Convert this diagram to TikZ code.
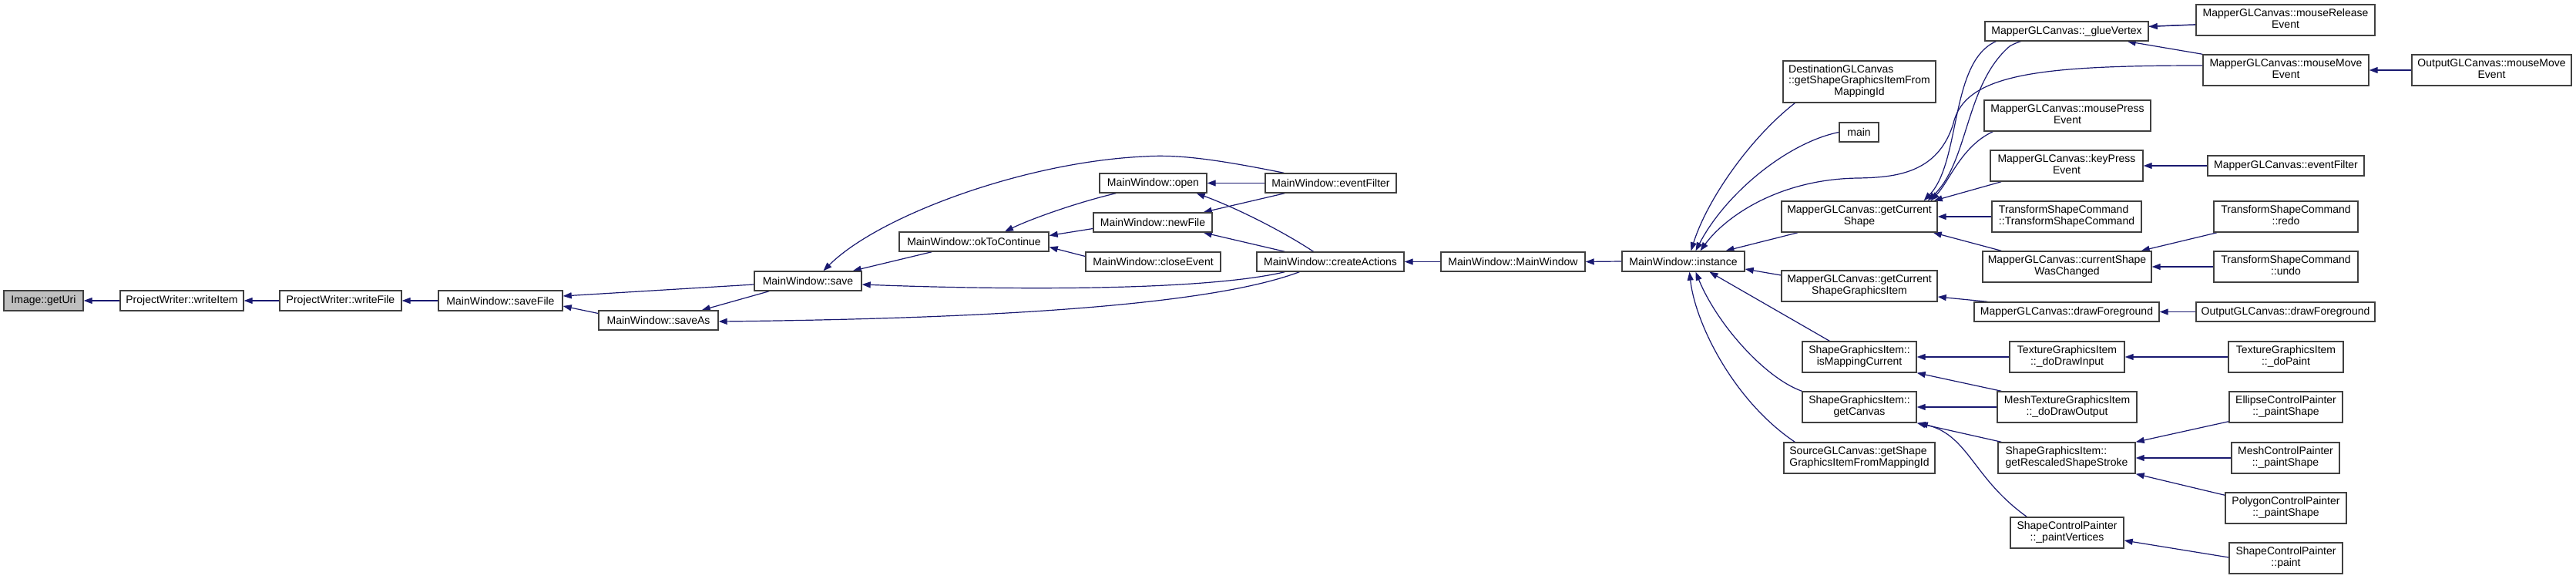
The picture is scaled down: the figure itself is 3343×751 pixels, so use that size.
\documentclass[tikz,border=0pt]{standalone}
\usepackage{fontspec}
\setmainfont{Liberation Sans}
\usetikzlibrary{arrows.meta}
\definecolor{edgec}{HTML}{191970}
\definecolor{nodeb}{HTML}{404040}
\definecolor{rootf}{HTML}{BFBFBF}
\pgfdeclarelayer{bg}
\pgfsetlayers{bg,main}
\newcommand\nodefont{\fontsize{14}{14.5}\selectfont}
\newcommand\mlt[2]{\begin{tabular}{@{}l@{}}#1\\\multicolumn{1}{@{}c@{}}{#2}\end{tabular}}
\newcommand\mlth[3]{\begin{tabular}{@{}l@{}}#1\\#2\\\multicolumn{1}{@{}c@{}}{#3}\end{tabular}}
\begin{document}
\begin{tikzpicture}[x=1pt,y=-1pt,
  fn/.style={draw=nodeb, line width=1.4pt, fill=white, inner sep=0pt, font=\nodefont, align=center},
  wh/.style 2 args={minimum width=#1pt, minimum height=#2pt},
  cg/.style={draw=edgec, line width=1.2pt, -{Triangle[length=11pt,width=8pt]}}]
\useasboundingbox (0,0) rectangle (3343,751);
% nodes
\node[fn,fill=rootf,wh={103}{26}] (getUri) at (56.5,390) {Image::getUri};
\node[fn,wh={160}{26}] (writeItem) at (236,390) {ProjectWriter::writeItem};
\node[fn,wh={158}{26}] (writeFile) at (442,390) {ProjectWriter::writeFile};
\node[fn,wh={161}{26}] (saveFile) at (649.5,390) {MainWindow::saveFile};
\node[fn,wh={155}{25}] (saveAs) at (854.5,415.5) {MainWindow::saveAs};
\node[fn,wh={139}{25}] (save) at (1048.5,364.5) {MainWindow::save};
\node[fn,wh={194}{25}] (okc) at (1264,313.5) {MainWindow::okToContinue};
\node[fn,wh={139}{25}] (open) at (1496.5,237.5) {MainWindow::open};
\node[fn,wh={154}{25}] (newFile) at (1496,288.5) {MainWindow::newFile};
\node[fn,wh={175}{25}] (closeEv) at (1496.5,339.5) {MainWindow::closeEvent};
\node[fn,wh={170}{25}] (evfMW) at (1727,237.5) {MainWindow::eventFilter};
\node[fn,wh={191}{25}] (createA) at (1726.5,339.5) {MainWindow::createActions};
\node[fn,wh={187}{25}] (mwmw) at (1963.5,339.5) {MainWindow::MainWindow};
\node[fn,wh={159}{26}] (inst) at (2184.5,339) {MainWindow::instance};
\node[fn,wh={198}{54}] (dest) at (2413,106) {\mlth{DestinationGLCanvas}{::getShapeGraphicsItemFrom}{MappingId}};
\node[fn,wh={51}{25}] (main) at (2412.5,171.5) {main};
\node[fn,wh={202}{40}] (gcs) at (2413,281) {\mlt{MapperGLCanvas::getCurrent}{Shape}};
\node[fn,wh={202}{40}] (gcsgi) at (2413,371) {\mlt{MapperGLCanvas::getCurrent}{ShapeGraphicsItem}};
\node[fn,wh={148}{40}] (ismc) at (2413,463) {\mlt{ShapeGraphicsItem::}{isMappingCurrent}};
\node[fn,wh={148}{40}] (getc) at (2413,528) {\mlt{ShapeGraphicsItem::}{getCanvas}};
\node[fn,wh={196}{40}] (srcgl) at (2413,594) {\mlt{SourceGLCanvas::getShape}{GraphicsItemFromMappingId}};
\node[fn,wh={212}{25}] (glue) at (2682,40.5) {MapperGLCanvas::\_glueVertex};
\node[fn,wh={216}{40}] (mpress) at (2683,150) {\mlt{MapperGLCanvas::mousePress}{Event}};
\node[fn,wh={198}{40}] (kpress) at (2682,215) {\mlt{MapperGLCanvas::keyPress}{Event}};
\node[fn,wh={194}{40}] (tsc) at (2682,281) {\mlt{TransformShapeCommand}{::TransformShapeCommand}};
\node[fn,wh={219}{40}] (csc) at (2682.5,346) {\mlt{MapperGLCanvas::currentShape}{WasChanged}};
\node[fn,wh={240}{25}] (dfgM) at (2682,404.5) {MapperGLCanvas::drawForeground};
\node[fn,wh={149}{40}] (ddi) at (2682.5,463) {\mlt{TextureGraphicsItem}{::\_doDrawInput}};
\node[fn,wh={181}{40}] (mtgi) at (2682.5,528) {\mlt{MeshTextureGraphicsItem}{::\_doDrawOutput}};
\node[fn,wh={178}{40}] (grss) at (2682,594) {\mlt{ShapeGraphicsItem::}{getRescaledShapeStroke}};
\node[fn,wh={147}{40}] (pverts) at (2682.5,691) {\mlt{ShapeControlPainter}{::\_paintVertices}};
\node[fn,wh={232}{40}] (mrel) at (2966,26) {\mlt{MapperGLCanvas::mouseRelease}{Event}};
\node[fn,wh={215}{40}] (mmove) at (2966.5,91) {\mlt{MapperGLCanvas::mouseMove}{Event}};
\node[fn,wh={207}{40}] (ommove) at (3233.5,91) {\mlt{OutputGLCanvas::mouseMove}{Event}};
\node[fn,wh={203}{26}] (evfM) at (2966.5,215) {MapperGLCanvas::eventFilter};
\node[fn,wh={187}{40}] (redo) at (2966.5,281) {\mlt{TransformShapeCommand}{::redo}};
\node[fn,wh={187}{40}] (undo) at (2966.5,346) {\mlt{TransformShapeCommand}{::undo}};
\node[fn,wh={232}{25}] (odfg) at (2966,404.5) {OutputGLCanvas::drawForeground};
\node[fn,wh={149}{40}] (dpaint) at (2966.5,463) {\mlt{TextureGraphicsItem}{::\_doPaint}};
\node[fn,wh={147}{40}] (ellip) at (2966.5,528) {\mlt{EllipseControlPainter}{::\_paintShape}};
\node[fn,wh={140}{40}] (meshcp) at (2966,594) {\mlt{MeshControlPainter}{::\_paintShape}};
\node[fn,wh={157}{40}] (polycp) at (2966.5,659) {\mlt{PolygonControlPainter}{::\_paintShape}};
\node[fn,wh={147}{40}] (paint) at (2966.5,724) {\mlt{ShapeControlPainter}{::paint}};
% edges
\begin{pgfonlayer}{bg}
\fill[white] (0,0) rectangle (3343,751);
\draw[cg] (writeItem.west) -- (getUri.east);
\draw[cg] (writeFile.west) -- (writeItem.east);
\draw[cg] (saveFile.west) -- (writeFile.east);
\draw[cg] ([yshift=-4.5pt]save.west) -- ([yshift=6pt]saveFile.east);
\draw[cg] ([yshift=9pt]saveAs.west) -- ([yshift=-7pt]saveFile.east);
\draw[cg] ([xshift=20pt]save.south west) -- ([xshift=-22pt]saveAs.north east);
\draw[cg] ([xshift=43pt]okc.south west) -- ([xshift=-12pt]save.north east);
\draw[cg] ([xshift=25pt]evfMW.north west) .. controls (1580,207) and (1530,200) .. (1485,203) .. controls (1330,210) and (1140,280) .. ([xshift=20pt]save.north);
\draw[cg] ([xshift=37pt]createA.south west) .. controls (1560,378) and (1300,376) .. ([yshift=-4.5pt]save.east);
\draw[cg] ([xshift=56pt]createA.south west) .. controls (1600,385) and (1400,412) .. ([yshift=-1.5pt]saveAs.east);
\draw[cg] ([xshift=22pt]open.south west) .. controls (1400,262) and (1340,283) .. ([xshift=40pt]okc.north);
\draw[cg] ([yshift=-8pt]newFile.west) -- ([yshift=8pt]okc.east);
\draw[cg] ([yshift=7pt]closeEv.west) -- ([yshift=-7pt]okc.east);
\draw[cg] (evfMW.west) -- (open.east);
\draw[cg] ([xshift=-22pt]createA.north) .. controls (1660,297) and (1600,268) .. ([xshift=-14pt]open.south east);
\draw[cg] ([xshift=26pt]evfMW.south west) -- ([xshift=-12pt]newFile.north east);
\draw[cg] ([xshift=37pt]createA.north west) -- ([xshift=-12pt]newFile.south east);
\draw[cg] (mwmw.west) -- (createA.east);
\draw[cg] (inst.west) -- (mwmw.east);
\draw[cg] ([xshift=16pt]dest.south west) .. controls (2270,180) and (2215,260) .. ([xshift=10pt]inst.north);
\draw[cg] (main.west) .. controls (2320,185) and (2240,250) .. ([xshift=16pt]inst.north);
\draw[cg] ([yshift=6pt]mmove.west) .. controls (2650,85) and (2550,95) .. (2535,160) .. controls (2515,225) and (2460,230) .. (2412,231) .. controls (2310,232) and (2240,280) .. ([xshift=22pt]inst.north);
\draw[cg] ([xshift=22pt]gcs.south west) -- ([xshift=55pt]inst.north);
\draw[cg] ([yshift=14pt]gcsgi.west) -- ([yshift=-10pt]inst.east);
\draw[cg] ([xshift=36pt]ismc.north west) -- ([xshift=34pt]inst.south);
\draw[cg] (getc.north west) .. controls (2290,490) and (2228,420) .. ([xshift=16pt]inst.south);
\draw[cg] ([xshift=15pt]srcgl.north west) .. controls (2250,520) and (2200,420) .. ([xshift=8pt]inst.south);
\draw[cg] ([xshift=15pt]glue.south west) .. controls (2530,80) and (2545,210) .. ([xshift=-18pt]gcs.north east);
\draw[cg] ([yshift=-6pt]mrel.west) .. controls (2760,35) and (2640,40) .. (2608,60) .. controls (2550,110) and (2555,210) .. ([xshift=-13pt]gcs.north east);
\draw[cg] ([xshift=12pt]mpress.south west) .. controls (2545,190) and (2530,235) .. ([xshift=-9pt]gcs.north east);
\draw[cg] ([xshift=15pt]kpress.south west) -- ([xshift=-5pt]gcs.north east);
\draw[cg] (tsc.west) -- (gcs.east);
\draw[cg] ([xshift=25pt]csc.north west) -- ([xshift=-6pt]gcs.south east);
\draw[cg] ([yshift=-6pt]mrel.west) -- ([yshift=6pt]glue.east);
\draw[cg] (mmove.north west) -- ([xshift=-28pt]glue.south east);
\draw[cg] (ommove.west) -- (mmove.east);
\draw[cg] (evfM.west) -- (kpress.east);
\draw[cg] ([xshift=5pt]redo.south west) -- ([xshift=-14pt]csc.north east);
\draw[cg] (undo.west) -- (csc.east);
\draw[cg] (odfg.west) -- (dfgM.east);
\draw[cg] ([xshift=18pt]dfgM.north west) -- ([yshift=-14pt]gcsgi.east);
\draw[cg] (dpaint.west) -- (ddi.east);
\draw[cg] (ddi.west) -- (ismc.east);
\draw[cg] ([xshift=6pt]mtgi.north west) -- (ismc.south east);
\draw[cg] (mtgi.west) -- (getc.east);
\draw[cg] ([xshift=5pt]grss.north west) -- (getc.south east);
\draw[cg] ([xshift=22pt]pverts.north west) .. controls (2560,620) and (2555,565) .. ([xshift=3pt]getc.south east);
\draw[cg] ([yshift=2pt]ellip.south west) -- (grss.north east);
\draw[cg] (meshcp.west) -- (grss.east);
\draw[cg] ([yshift=-4pt]polycp.north west) -- (grss.south east);
\draw[cg] ([yshift=1pt]paint.west) -- ([yshift=-10pt]pverts.east);
\end{pgfonlayer}
\end{tikzpicture}
\end{document}
